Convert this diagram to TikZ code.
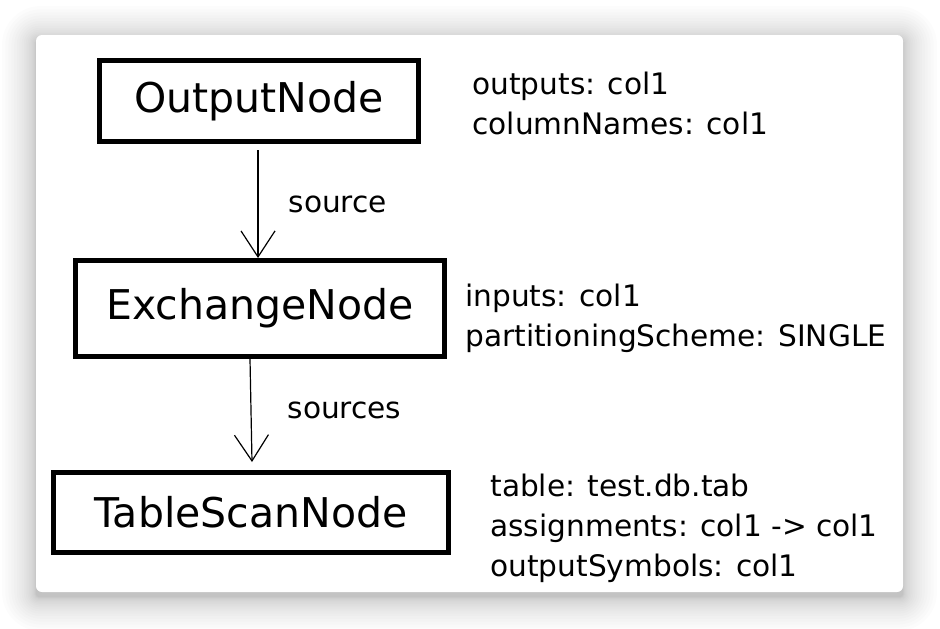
\documentclass[tikz,border=0pt]{standalone}
\usepackage{fontspec}
\setmainfont{DejaVu Sans}
\usetikzlibrary{positioning, arrows.meta}
\tikzset{
  planbox/.style={rectangle, draw=black, line width=2.5pt, fill=white,
    inner sep=0pt, text centered, font=\fontsize{20.5}{24}\selectfont},
  props/.style={align=left, inner sep=0pt, font=\fontsize{14.8}{20}\selectfont},
  edge label/.style={inner sep=0pt, font=\fontsize{14.8}{18}\selectfont},
  flow/.style={line width=0.6pt, -{Straight Barb[length=13pt, width=17pt, line width=0.6pt]}},
}

\begin{document}
\begin{tikzpicture}[x=0.5pt, y=-0.5pt]

  \useasboundingbox (0,0) rectangle (940,628);
  \fill[white] (0,0) rectangle (940,628);

  % card and its shadow
  \foreach \r [evaluate=\r as \d using 0.085*\r*\r,
               evaluate=\r as \rc using 1.5+0.045*\r*\r] in {1,...,20}
    \fill[black, opacity=0.012, rounded corners=\rc pt]
      ({36-\d},{40-\d}) rectangle ({903+\d},{597+\d});
  \fill[white, rounded corners=3pt] (36,35) rectangle (903,592);

  % plan nodes
  \node[planbox, minimum width=159.5pt, minimum height=40.5pt] (output) at (259,101) {OutputNode};
  \node[planbox, minimum width=184.5pt, minimum height=48pt] (exchange) at (260,308.5) {ExchangeNode};
  \node[planbox, minimum width=197.5pt, minimum height=40pt] (tablescan) at (251,512.5) {TableScanNode};

  % properties
  \node[props, right=25.5pt of output, yshift=-1pt] (outprops)
    {outputs: col1\\columnNames: col1};
  \node[props, right=9pt of exchange, yshift=-4.75pt] (exprops)
    {inputs: col1\\partitioningScheme: SINGLE};
  \node[props, right=19.5pt of tablescan, yshift=-8pt] (scanprops)
    {table: test.db.tab\\assignments: col1 -> col1\\outputSymbols: col1};

  % edges
  \draw[flow] ([xshift=-0.5pt, yshift=-3pt]output.south) -- ([xshift=-1pt]exchange.north)
    node[edge label, midway, right=15pt] {source};
  \draw[flow] ([xshift=-5pt]exchange.south) -- ([xshift=0.5pt, yshift=4pt]tablescan.north)
    node[edge label, midway, right=18pt] {sources};

\end{tikzpicture}
\end{document}
